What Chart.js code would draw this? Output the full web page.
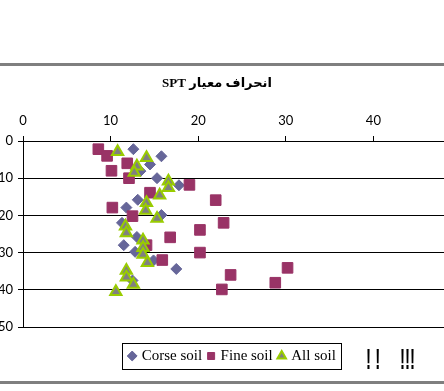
<!DOCTYPE html>
<html>
<head>
<meta charset="utf-8">
<script src="https://cdn.jsdelivr.net/npm/chart.js@4"></script>
<style>
	body { margin: 0; background: #fff; }
	#wrap { position: relative; width: 444px; height: 391px; overflow: hidden; }
	#chart { position: absolute; left: -7px; top: 0; }
	.rule { position: absolute; left: 0; width: 444px; height: 3px; background: #7f7f7f; }
	.bang { position: absolute; top: 344px; font: bold 30px "Liberation Sans", sans-serif; line-height: 30px;
		color: #000; transform: scaleX(0.5); transform-origin: left top; white-space: pre; }
</style>
</head>
<body>
<div id="wrap">
	<div class="rule" style="top:63px"></div>
	<canvas id="chart" width="490" height="391"></canvas>
	<div class="bang" style="left:366px">! !</div>
	<div class="bang" style="left:400px">!!!</div>
	<div class="rule" style="top:381px"></div>
</div>
<script>
// SPT values (x) against depth (y)
var corseSpt   = [12.6, 15.8, 14.5, 13.4, 15.3, 17.8, 13.1, 11.8, 15.8, 11.3, 13.0, 11.5, 12.8, 14.9, 17.5, 12.5];
var corseDepth = [2.2, 4.1, 6.3, 8.1, 10.0, 11.9, 15.8, 17.9, 19.9, 22.0, 25.8, 28.0, 29.8, 32.1, 34.4, 37.5];

var fineSpt   = [8.6, 9.6, 11.9, 10.1, 12.1, 19.0, 14.5, 22.0, 10.2, 12.5, 22.9, 20.2, 16.8, 14.1, 20.2, 15.9, 30.2, 23.7, 28.8, 22.7];
var fineDepth = [2.2, 4.0, 6.0, 8.0, 10.0, 11.8, 13.9, 15.9, 17.9, 20.2, 22.0, 23.9, 25.9, 28.0, 30.0, 32.0, 34.1, 36.0, 38.1, 39.9];

var allSpt   = [10.8, 14.1, 13.0, 12.7, 16.6, 16.6, 15.6, 14.1, 14.0, 15.3, 11.7, 11.8, 13.7, 13.7, 13.7, 14.2, 11.8, 11.8, 12.6, 10.6];
var allDepth = [2.9, 4.5, 6.8, 8.5, 10.8, 12.6, 14.6, 16.6, 18.7, 20.8, 22.9, 24.7, 26.7, 28.7, 30.5, 32.7, 34.8, 36.6, 38.6, 40.5];

var seriesNames = ['Corse soil', 'Fine soil', 'All soil'];
var xTicks = [0, 10, 20, 30, 40, 50];
var yTicks = [0, 10, 20, 30, 40, 50];
var chartTitle = 'انحراف معيار SPT';

function toPoints(xs, ys) {
	return xs.map(function (x, i) { return { x: x, y: ys[i] }; });
}

// moves legend / title a bit and frames the legend like excel does
var legendFrame = {
	id: 'legendFrame',
	afterLayout: function (chart) {
		var lg = chart.legend;
		lg.top += 14.5; lg.bottom += 14.5;
		lg.left += 6; lg.right += 6;
		var tb = chart.titleBlock;
		tb.left -= 10; tb.right -= 10;
	},
	afterDraw: function (chart) {
		var boxes = chart.legend.legendHitBoxes;
		if (!boxes || !boxes.length) return;
		var l = Infinity, r = -Infinity, t = Infinity, b = -Infinity;
		boxes.forEach(function (h) {
			l = Math.min(l, h.left); r = Math.max(r, h.left + h.width);
			t = Math.min(t, h.top); b = Math.max(b, h.top + h.height);
		});
		var ctx = chart.ctx;
		ctx.save();
		ctx.strokeStyle = '#000';
		ctx.lineWidth = 1;
		ctx.strokeRect(Math.round(l - 8) + 0.5, Math.round(t - 6) + 0.5, Math.round(r - l + 13), Math.round(b - t + 11));
		ctx.restore();
	}
};

var tickFont = { family: 'Lato', size: 13 };

new Chart(document.getElementById('chart'), {
	type: 'scatter',
	data: {
		datasets: [{
			label: seriesNames[0],
			data: toPoints(corseSpt, corseDepth),
			pointStyle: 'rectRot',
			pointRadius: 5.5,
			backgroundColor: '#666699',
			borderColor: '#666699',
			borderWidth: 1,
			order: 2
		}, {
			label: seriesNames[1],
			data: toPoints(fineSpt, fineDepth),
			pointStyle: 'rect',
			pointRadius: 7.5,
			backgroundColor: '#993366',
			borderColor: '#993366',
			borderWidth: 1,
			order: 1
		}, {
			label: seriesNames[2],
			data: toPoints(allSpt, allDepth),
			pointStyle: 'triangle',
			pointRadius: 6.5,
			backgroundColor: '#808080',
			borderColor: '#99cc00',
			borderWidth: 2,
			order: 0
		}]
	},
	options: {
		responsive: false,
		animation: false,
		layout: { padding: { top: 68, left: 0, right: 22, bottom: 32 } },
		plugins: {
			title: {
				display: true,
				text: '\u202B' + chartTitle + '\u202C',
				color: '#000',
				font: { family: '"Liberation Serif", "DejaVu Sans"', size: 13, weight: 'bold' },
				padding: { top: 8, bottom: 7.4 }
			},
			legend: {
				position: 'bottom',
				labels: {
					usePointStyle: true,
					boxWidth: 4,
					boxHeight: 7,
					padding: 7,
					color: '#000',
					font: { family: '"Liberation Serif"', size: 15 },
					sort: function (a, b) { return a.datasetIndex - b.datasetIndex; }
				}
			},
			tooltip: { enabled: false }
		},
		scales: {
			x: {
				type: 'linear',
				position: 'top',
				min: 0,
				max: 50,
				afterBuildTicks: function (s) { s.ticks = xTicks.map(function (v) { return { value: v }; }); },
				afterFit: function (s) { s.height = 42; },
				ticks: { font: tickFont, color: '#000', padding: 7 },
				grid: { drawOnChartArea: false, drawTicks: true, tickLength: 5, color: '#000', lineWidth: 1 },
				border: { display: true, color: '#000', width: 1 }
			},
			y: {
				type: 'linear',
				reverse: true,
				min: 0,
				max: 50,
				afterBuildTicks: function (s) { s.ticks = yTicks.map(function (v) { return { value: v }; }); },
				afterFit: function (s) { s.width = 30; },
				ticks: { font: tickFont, color: '#000', padding: 5 },
				grid: { color: '#000', lineWidth: 1, tickLength: 5 },
				border: { display: true, color: '#000', width: 1 }
			}
		}
	},
	plugins: [legendFrame]
});
</script>
</body>
</html>
